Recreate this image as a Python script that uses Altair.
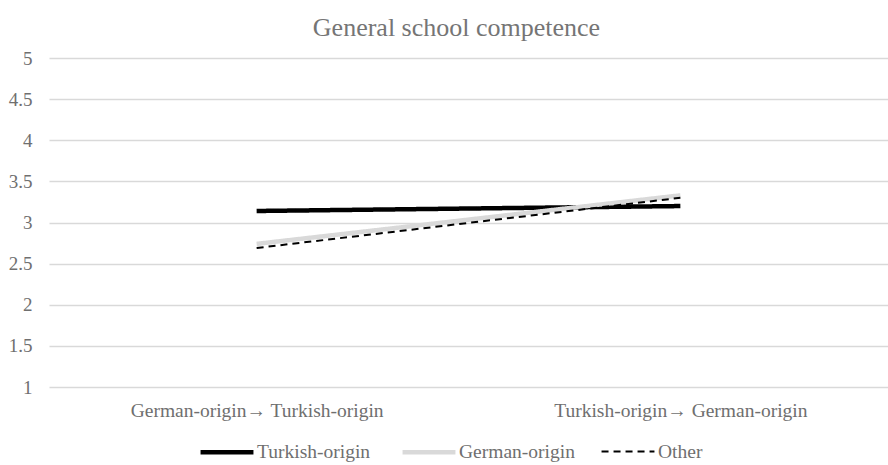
import altair as alt
import pandas as pd

conditions = ["German-origin\u2192 Turkish-origin", "Turkish-origin\u2192 German-origin"]
series = ["Turkish-origin", "German-origin", "Other"]
turkish = [3.14, 3.20]
german = [2.74, 3.33]
other = [2.69, 3.30]
y_ticks = [1, 1.5, 2, 2.5, 3, 3.5, 4, 4.5, 5]

rows = []
for name, vals in zip(series, [turkish, german, other]):
    for c, v in zip(conditions, vals):
        rows.append({"condition": c, "series": name, "value": v})
df = pd.DataFrame(rows)

FONT = "Liberation Serif"
GREY = "#6f6f6f"

chart = alt.Chart(df).mark_line().encode(
    x=alt.X("condition:N", sort=conditions,
            scale=alt.Scale(type="point", padding=0.49),
            axis=alt.Axis(title=None, labelAngle=0, domain=False, ticks=False, grid=False,
                          labelFontSize=19.5, labelPadding=14, labelColor=GREY, labelLimit=400)),
    y=alt.Y("value:Q", scale=alt.Scale(domain=[1, 5], nice=False, zero=False),
            axis=alt.Axis(title=None, values=y_ticks, domain=False, ticks=False,
                          labelExpr="'' + datum.value", labelFontSize=19, labelPadding=17,
                          labelColor=GREY, gridColor="#D9D9D9", gridWidth=1.3)),
    color=alt.Color("series:N", sort=series,
                    scale=alt.Scale(domain=series, range=["#000000", "#D9D9D9", "#000000"]),
                    legend=alt.Legend(title=None, orient="none", legendX=149, legendY=365,
                                      direction="horizontal", columns=3, symbolType="stroke",
                                      symbolSize=2800, columnPadding=22, labelOffset=1,
                                      labelFontSize=19.5, labelColor=GREY, labelFont=FONT)),
    strokeDash=alt.StrokeDash("series:N", sort=series,
                              scale=alt.Scale(domain=series, range=[[1, 0], [1, 0], [7, 5]]),
                              legend=alt.Legend(title=None)),
    strokeWidth=alt.StrokeWidth("series:N", sort=series,
                                scale=alt.Scale(type="ordinal", domain=series, range=[4.5, 4.5, 2]),
                                legend=alt.Legend(title=None)),
).properties(
    width=839, height=329,
    title=alt.TitleParams("General school competence", fontSize=26, color="#757575",
                          font=FONT, fontWeight="normal", anchor="middle", offset=8, dx=-12),
    autosize=alt.AutoSizeParams(type="none"),
    padding={"left": 49, "top": 58, "right": 0, "bottom": 78},
).configure(font=FONT).configure_view(stroke=None).configure_axis(labelFont=FONT)

chart.save("out.html", embed_options={"renderer": "svg", "actions": False})
